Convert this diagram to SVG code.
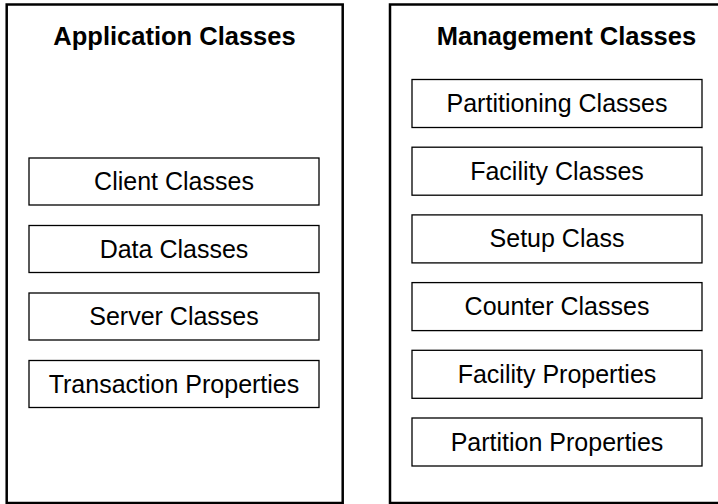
<svg xmlns="http://www.w3.org/2000/svg" width="718" height="504" viewBox="0 0 718 504">
<style>
.panel{fill:#fff;stroke:#000;stroke-width:2.5}
.box{fill:#fff;stroke:#000;stroke-width:1.3}
.t{font-family:"Liberation Sans",Arial,sans-serif;font-size:25px;text-anchor:middle;fill:#000}
.h{font-family:"Liberation Sans",Arial,sans-serif;font-size:25.5px;font-weight:bold;text-anchor:middle;fill:#000}
</style>
<rect width="718" height="504" fill="#fff"/>
<g id="application-classes">
<rect class="panel" x="6.7" y="4.5" width="336" height="498.5"/>
<text class="h" x="174.5" y="45">Application Classes</text>
</g>
<g id="client-classes"><rect class="box" x="29" y="158" width="290" height="47"/><text class="t" x="174" y="190">Client Classes</text></g>
<g id="data-classes"><rect class="box" x="29" y="225.5" width="290" height="47"/><text class="t" x="174" y="257.5">Data Classes</text></g>
<g id="server-classes"><rect class="box" x="29" y="293" width="290" height="47"/><text class="t" x="174" y="325">Server Classes</text></g>
<g id="transaction-properties"><rect class="box" x="29" y="360.5" width="290" height="47"/><text class="t" x="174" y="392.5">Transaction Properties</text></g>
<g id="management-classes">
<rect class="panel" x="390" y="4.5" width="340" height="498.5"/>
<text class="h" x="566.5" y="45">Management Classes</text>
</g>
<g id="partitioning-classes"><rect class="box" x="412" y="79.5" width="290" height="48"/><text class="t" x="557" y="112">Partitioning Classes</text></g>
<g id="facility-classes"><rect class="box" x="412" y="147.2" width="290" height="48"/><text class="t" x="557" y="179.7">Facility Classes</text></g>
<g id="setup-class"><rect class="box" x="412" y="214.9" width="290" height="48"/><text class="t" x="557" y="247.4">Setup Class</text></g>
<g id="counter-classes"><rect class="box" x="412" y="282.6" width="290" height="48"/><text class="t" x="557" y="315.1">Counter Classes</text></g>
<g id="facility-properties"><rect class="box" x="412" y="350.3" width="290" height="48"/><text class="t" x="557" y="382.8">Facility Properties</text></g>
<g id="partition-properties"><rect class="box" x="412" y="418" width="290" height="48"/><text class="t" x="557" y="450.5">Partition Properties</text></g>
<g id="connectors"/>
</svg>
